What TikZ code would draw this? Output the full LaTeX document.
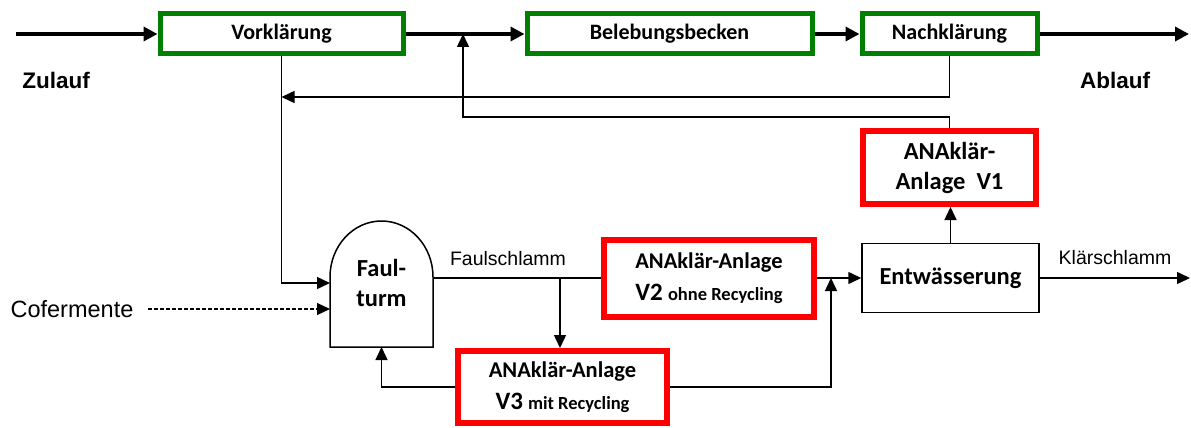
\documentclass[tikz,border=0pt]{standalone}
\usepackage{fontspec}
\setmainfont{Carlito}
\newfontfamily\arial{Liberation Sans}
\usetikzlibrary{arrows.meta}
\definecolor{boxgreen}{RGB}{0,128,0}
\definecolor{boxred}{RGB}{255,0,0}
\begin{document}
\begin{tikzpicture}[x=1pt,y=-1pt,
  greenbox/.style={draw=boxgreen,line width=5pt,inner sep=0pt,align=center,font=\fontsize{22}{26}\selectfont\bfseries},
  redbox/.style={draw=boxred,line width=6pt,inner sep=0pt,align=center,font=\fontsize{22.5}{32}\selectfont\bfseries},
  plainbox/.style={draw=black,line width=1.5pt,inner sep=0pt,align=center,font=\fontsize{24.5}{30}\selectfont\bfseries},
  mainflow/.style={line width=4pt,-{Triangle[length=14pt,width=14pt]}},
  thinline/.style={line width=1.5pt},
  thinarrow/.style={line width=1.5pt,-{Triangle[length=13pt,width=12pt]}},
  dasharrow/.style={line width=1.2pt,dash pattern=on 4pt off 2pt,-{Triangle[length=13pt,width=12pt]}},
  biglabel/.style={font=\arial\fontsize{22.5}{26}\selectfont\bfseries},
  smalllabel/.style={font=\arial\fontsize{19.5}{22}\selectfont}
]
\useasboundingbox (0,0) rectangle (1191,428);

% green boxes
\node[greenbox,minimum width=243pt,minimum height=40pt] (vor) at (281.5,34) {Vorklärung};
\node[greenbox,minimum width=285pt,minimum height=40pt] (bel) at (669.5,34) {Belebungsbecken};
\node[greenbox,minimum width=175pt,minimum height=40pt] (nach) at (949.5,34) {Nachklärung};

% red boxes
\node[redbox,font=\fontsize{24.5}{30}\selectfont\bfseries,minimum width=173pt,minimum height=73pt] (v1) at (949.5,167.5) {ANAklär-\\Anlage\ \ V1};
\node[redbox,minimum width=210pt,minimum height=77pt] (v2) at (709,278) {ANAklär-Anlage\\{\fontsize{25}{32}\selectfont V2} {\fontsize{18.5}{32}\selectfont ohne Recycling}};
\node[redbox,minimum width=209pt,minimum height=72pt] (v3) at (562.5,387) {ANAklär-Anlage\\{\fontsize{25}{32}\selectfont V3} {\fontsize{18.5}{32}\selectfont mit Recycling}};

% Entwässerung
\node[plainbox,minimum width=177pt,minimum height=69pt] (ent) at (950.5,278) {Entwässerung};

% Faulturm
\draw[thinline] (330,347) -- (330,277) arc[start angle=180,end angle=360,x radius=51.5,y radius=56] -- (433,347) -- cycle;
\node[align=center,font=\fontsize{24.5}{30}\selectfont\bfseries] (ft) at (381.5,283) {Faul-\\turm};

% coordinates
\coordinate (zin) at (16,34);
\coordinate (aout) at (1189,34);
\coordinate (j1) at (463,34);
\coordinate (r1) at (281.5,97);
\coordinate (ftin1) at (330,283);
\coordinate (ftin2) at (330,309);
\coordinate (ftout) at (433,278);
\coordinate (ftbot) at (381.5,347);
\coordinate (cofs) at (148,309);
\coordinate (br) at (560,278);
\coordinate (j2) at (831,278);
\coordinate (kout) at (1190,278);

% main flow
\draw[mainflow] (zin) -- (vor.west);
\draw[mainflow] (vor.east) -- (bel.west);
\draw[mainflow] (bel.east) -- (nach.west);
\draw[mainflow] (nach.east) -- (aout);

% returns
\draw[thinarrow] (nach.south) |- (r1);
\draw[thinarrow] (v1.north) |- (463,117) -- (j1);
\draw[thinarrow] (vor.south) |- (ftin1);
\draw[dasharrow] (cofs) -- (ftin2);

% sludge line
\draw[thinline] (ftout) -- (v2.west);
\draw[thinarrow] (br) -- (br |- v3.north);
\draw[thinarrow] (v2.east) -- (ent.west);
\draw[thinarrow] (v3.east) -| (j2);
\draw[thinarrow] (v3.west) -| (ftbot);
\draw[thinarrow] (ent.north) -- (ent.north |- v1.south);
\draw[thinarrow] (ent.east) -- (kout);

% labels
\node[biglabel] (zulauf) at (56,80) {Zulauf};
\node[biglabel] (ablauf) at (1115,80) {Ablauf};
\node[smalllabel] (fs) at (508,259) {Faulschlamm};
\node[smalllabel] (ks) at (1115,258) {Klärschlamm};
\node[font=\arial\fontsize{23.5}{26}\selectfont] (cof) at (72,309) {Cofermente};
\end{tikzpicture}
\end{document}
